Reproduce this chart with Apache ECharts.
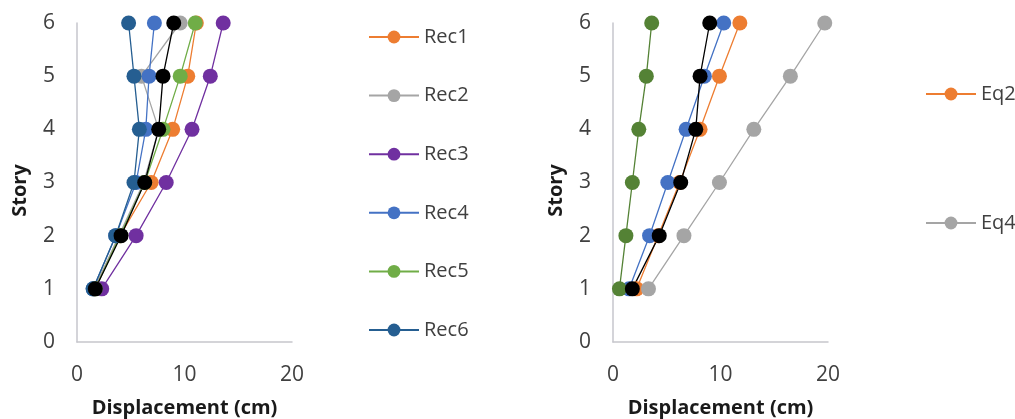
<!DOCTYPE html>
<html>
<head>
<meta charset="utf-8">
<script src="https://cdn.jsdelivr.net/npm/echarts@6/dist/echarts.min.js"></script>
<style>
  body { margin: 0; background: #fff; }
  #chart { width: 1015px; height: 419px; }
</style>
</head>
<body>
<div id="chart"></div>
<script>
const stories = [1, 2, 3, 4, 5, 6];
const yTicks = [0, 1, 2, 3, 4, 5, 6];
const xTicks = [0, 10, 20];

// left panel: displacement (cm) per story
const rec1 = [1.6, 4.0, 6.9, 8.9, 10.3, 11.1];
const rec2 = [1.6, 3.9, 6.2, 7.6, 6.0, 9.6];
const rec3 = [2.3, 5.5, 8.3, 10.7, 12.4, 13.6];
const rec4 = [1.5, 3.6, 5.5, 6.4, 6.7, 7.2];
const rec5 = [1.7, 4.0, 6.3, 8.0, 9.6, 11.0];
const rec6 = [1.5, 3.6, 5.3, 5.8, 5.3, 4.8];
const recMean = [1.7, 4.1, 6.3, 7.6, 8.0, 9.0];

// right panel
const eq2 = [2.2, 4.2, 6.2, 8.1, 9.9, 11.8];
const eq4 = [3.3, 6.6, 9.9, 13.1, 16.5, 19.7];
const eq1 = [1.5, 3.4, 5.1, 6.8, 8.5, 10.3];
const eq3 = [0.6, 1.2, 1.8, 2.4, 3.1, 3.6];
const eqMean = [1.8, 4.3, 6.3, 7.7, 8.1, 9.0];

const FONT = '"Open Sans", sans-serif';

const toPairs = (vals) => vals.map((v, i) => [v, stories[i]]);

const makeSeries = (name, vals, color, idx) => ({
  name: name,
  type: 'line',
  xAxisIndex: idx,
  yAxisIndex: idx,
  data: toPairs(vals),
  symbol: 'circle',
  symbolSize: 15,
  color: color,
  lineStyle: {width: 1.3, color: color},
  itemStyle: {color: color},
});

const xAxisCfg = (idx) => ({
  type: 'value',
  gridIndex: idx,
  min: xTicks[0],
  max: xTicks[xTicks.length - 1],
  interval: 10,
  name: 'Displacement (cm)',
  nameLocation: 'middle',
  nameGap: 56,
  nameTextStyle: {fontFamily: FONT, fontSize: 20, fontWeight: 'bold', color: '#1a1a1a'},
  axisLine: {lineStyle: {color: '#c6c6cc', width: 1.5}},
  axisTick: {show: false},
  splitLine: {show: false},
  axisLabel: {fontFamily: FONT, fontSize: 21, color: '#404040', margin: 23},
});

const yAxisCfg = (idx) => ({
  type: 'value',
  gridIndex: idx,
  min: yTicks[0],
  max: yTicks[yTicks.length - 1],
  interval: 1,
  name: 'Story',
  nameLocation: 'middle',
  nameGap: 47,
  nameTextStyle: {fontFamily: FONT, fontSize: 20, fontWeight: 'bold', color: '#1a1a1a', padding: [0, 16, 0, 0]},
  axisLine: {show: true, lineStyle: {color: '#c6c6cc', width: 1.5}},
  axisTick: {show: false},
  splitLine: {show: false},
  axisLabel: {fontFamily: FONT, fontSize: 21, color: '#404040', margin: 22},
});

const legendCfg = (names, left, top, gap) => ({
  data: names,
  orient: 'vertical',
  left: left,
  top: top,
  itemWidth: 50,
  itemHeight: 16,
  itemGap: gap,
  textStyle: {fontFamily: FONT, fontSize: 20, color: '#404040', lineHeight: 20},
});

const chart = echarts.init(document.getElementById('chart'));

const option = {
  animation: false,
  backgroundColor: '#fff',
  grid: [
    {left: 77, top: 23, width: 215, height: 319, outerBoundsMode: 'none'},
    {left: 613, top: 23, width: 215, height: 319, outerBoundsMode: 'none'},
  ],
  xAxis: [xAxisCfg(0), xAxisCfg(1)],
  yAxis: [yAxisCfg(0), yAxisCfg(1)],
  legend: [
    legendCfg(['Rec1', 'Rec2', 'Rec3', 'Rec4', 'Rec5', 'Rec6'], 363, 22, 38.6),
    legendCfg(['Eq2', 'Eq4'], 920, 79, 109),
  ],
  series: [
    makeSeries('Rec1', rec1, '#ED7D31', 0),
    makeSeries('Rec2', rec2, '#A5A5A5', 0),
    makeSeries('Rec3', rec3, '#7030A0', 0),
    makeSeries('Rec4', rec4, '#4472C4', 0),
    makeSeries('Rec5', rec5, '#70AD47', 0),
    makeSeries('Rec6', rec6, '#255E91', 0),
    makeSeries('Mean', recMean, '#000000', 0),
    makeSeries('Eq2', eq2, '#ED7D31', 1),
    makeSeries('Eq4', eq4, '#A5A5A5', 1),
    makeSeries('Eq1', eq1, '#4472C4', 1),
    makeSeries('Eq3', eq3, '#548235', 1),
    makeSeries('Eq mean', eqMean, '#000000', 1),
  ]
};

chart.setOption(option);
</script>
</body>
</html>
